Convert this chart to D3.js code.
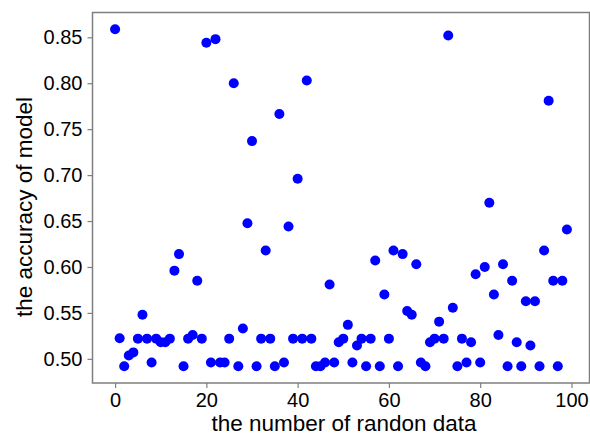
<!DOCTYPE html>
<meta charset="utf-8">
<script src="https://d3js.org/d3.v7.min.js"></script>
<style>
body { margin: 0; background: #fff; }
text { font-family: "Liberation Sans", Arial, sans-serif; }
</style>
<body>
<div id="chart"></div>
<script>
// accuracy of the model for each random data run (index 0..99)
var runs = d3.range(0, 100);
var accuracy = [
  0.8587, 0.5224, 0.492, 0.5036, 0.507, 0.522, 0.548, 0.522, 0.496, 0.522,
  0.518, 0.518, 0.522, 0.596, 0.614, 0.492, 0.522, 0.526, 0.585, 0.522,
  0.844, 0.496, 0.848, 0.496, 0.496, 0.522, 0.800, 0.492, 0.533, 0.6475,
  0.737, 0.492, 0.522, 0.618, 0.522, 0.492, 0.7665, 0.496, 0.644, 0.522,
  0.696, 0.522, 0.803, 0.522, 0.492, 0.492, 0.496, 0.581, 0.496, 0.518,
  0.522, 0.537, 0.496, 0.5145, 0.522, 0.492, 0.522, 0.607, 0.492, 0.570,
  0.522, 0.618, 0.492, 0.614, 0.552, 0.548, 0.603, 0.496, 0.492, 0.518,
  0.522, 0.5405, 0.522, 0.852, 0.5556, 0.492, 0.522, 0.496, 0.518, 0.592,
  0.496, 0.600, 0.670, 0.570, 0.526, 0.603, 0.492, 0.585, 0.518, 0.492,
  0.5626, 0.5145, 0.5626, 0.492, 0.618, 0.781, 0.585, 0.492, 0.585, 0.6407
];
var xTicks = [0, 20, 40, 60, 80, 100];
var yTicks = [0.50, 0.55, 0.60, 0.65, 0.70, 0.75, 0.80, 0.85];

var width = 590, height = 436;
var box = {left: 92.5, right: 589.5, top: 12.5, bottom: 383};

var svg = d3.select("#chart").append("svg")
  .attr("width", width)
  .attr("height", height);

var x = d3.scaleLinear().domain([-4.95, 103.95]).range([box.left, box.right]);
var y = d3.scaleLinear().domain([0.4737, 0.877]).range([box.bottom, box.top]);

var frameColor = "#7f7f7f";

// x axis
var gx = svg.append("g")
  .attr("transform", "translate(0," + box.bottom + ")")
  .call(d3.axisBottom(x).tickValues(xTicks).tickFormat(d3.format("d")).tickSize(5).tickPadding(5));
gx.select(".domain").remove();
gx.selectAll("line").attr("stroke", frameColor).attr("stroke-width", 1.2);
gx.selectAll("text").attr("font-size", "20px").attr("fill", "#000");

// y axis
var gy = svg.append("g")
  .attr("transform", "translate(" + box.left + ",0)")
  .call(d3.axisLeft(y).tickValues(yTicks).tickFormat(d3.format(".2f")).tickSize(5).tickPadding(5));
gy.select(".domain").remove();
gy.selectAll("line").attr("stroke", frameColor).attr("stroke-width", 1.2);
gy.selectAll("text").attr("font-size", "20px").attr("fill", "#000");

// frame
svg.append("rect")
  .attr("x", box.left)
  .attr("y", box.top)
  .attr("width", box.right - box.left)
  .attr("height", box.bottom - box.top)
  .attr("fill", "none")
  .attr("stroke", frameColor)
  .attr("stroke-width", 1.5);

// points
svg.selectAll("circle.pt")
  .data(runs)
  .enter()
  .append("circle")
    .attr("class", "pt")
    .attr("cx", function(d) { return x(d); })
    .attr("cy", function(d) { return y(accuracy[d]); })
    .attr("r", 5)
    .attr("fill", "#0000ff");

// axis labels
svg.append("text")
  .attr("x", 344)
  .attr("y", 431)
  .attr("text-anchor", "middle")
  .attr("font-size", "22.5px")
  .text("the number of randon data");

svg.append("text")
  .attr("transform", "translate(32,207) rotate(-90)")
  .attr("text-anchor", "middle")
  .attr("font-size", "22.5px")
  .text("the accuracy of model");
</script>
</body>
